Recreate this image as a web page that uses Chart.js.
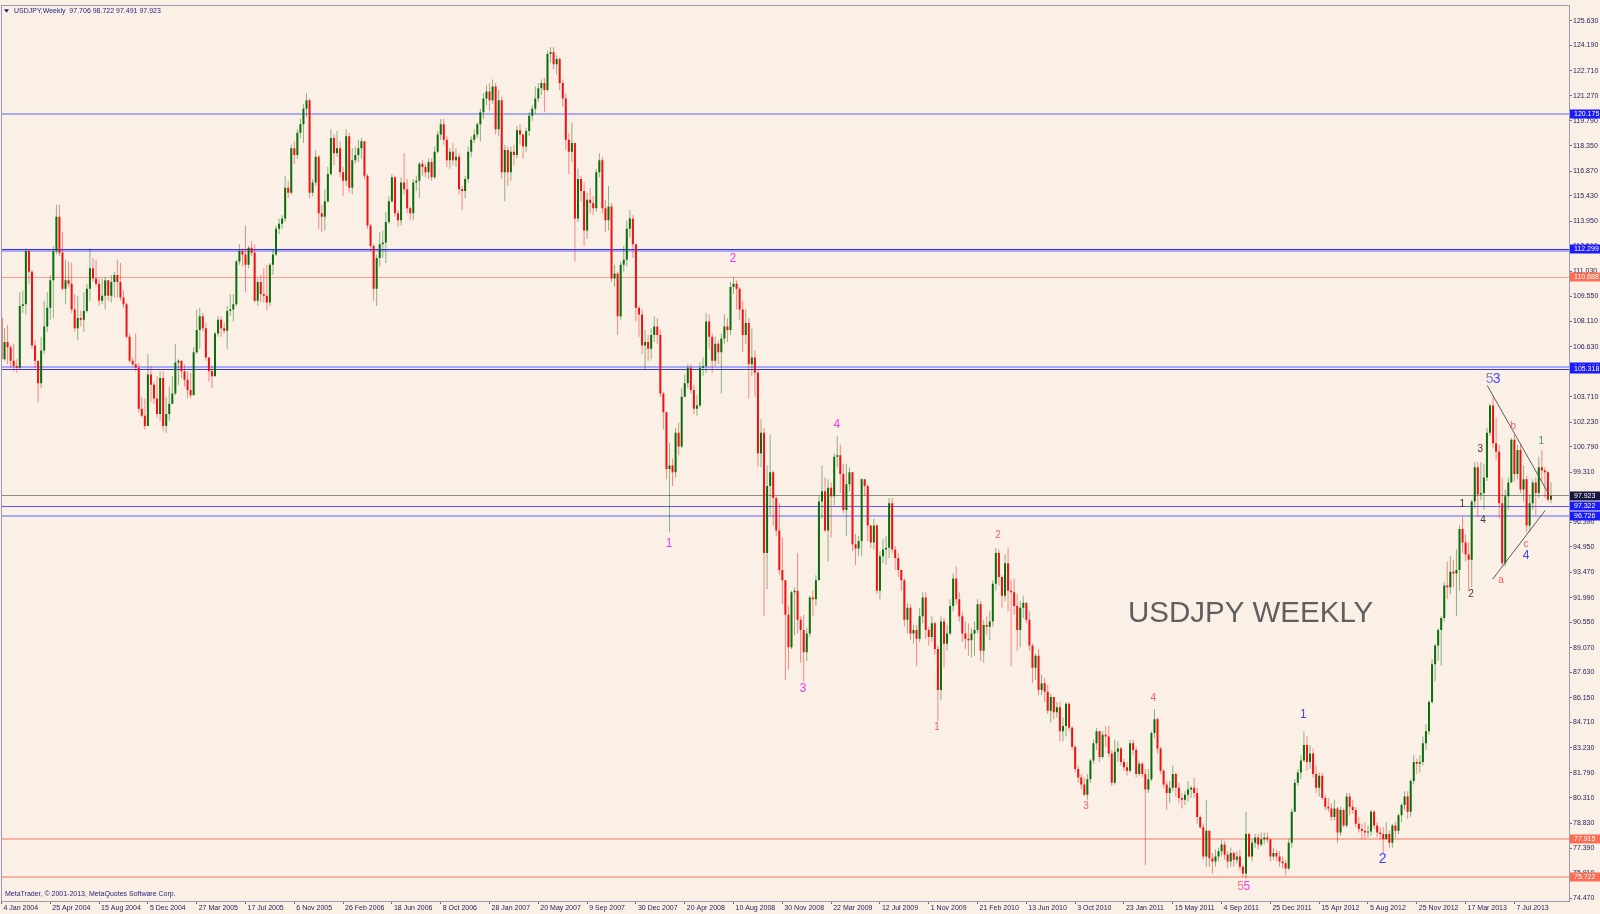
<!DOCTYPE html>
<html><head><meta charset="utf-8">
<script src="https://cdn.jsdelivr.net/npm/chart.js@4.4.1/dist/chart.umd.min.js"></script>
<style>
html,body{margin:0;padding:0;background:#fbf0e6;}
canvas{display:block;}
</style></head><body>
<canvas id="c" width="1600" height="914"></canvas>
<script>
// ---------------- DATA ----------------
const symbolTitle = 'USDJPY,Weekly';
const lastBarOHLC = [97.706, 98.722, 97.491, 97.923];
const firstOpen = 108.3;
// weekly closes, 4 Jan 2004 .. 29 Sep 2013 (one per bar)
const closes = [
105.9,106.9,106.6,105.8,105.5,105.4,109.0,109.1,112.2,111.0,
106.7,105.8,104.5,106.4,107.8,108.9,110.5,112.2,114.2,112.1,
110.0,110.5,110.3,108.8,107.7,108.3,108.2,108.7,110.0,111.2,
110.6,110.3,109.3,109.6,110.5,109.6,110.4,110.8,110.4,109.5,
109.1,107.2,105.8,105.6,105.4,103.0,102.6,102.0,105.0,104.4,
103.6,102.7,104.8,102.0,102.7,103.3,103.9,105.7,105.8,105.2,
104.7,104.1,103.8,106.3,107.6,108.4,107.7,106.0,105.2,104.9,
107.4,108.2,107.7,107.55,108.7,108.8,109.1,111.6,112.2,112.0,
111.4,112.4,112.1,109.3,110.4,109.7,109.6,109.2,111.4,112.0,
113.5,113.8,114.1,115.9,115.6,118.2,117.8,119.1,119.6,120.5,
121.0,115.6,116.2,117.7,114.4,114.2,115.1,116.7,118.8,117.9,
118.2,116.8,116.3,118.9,115.9,117.5,117.8,118.2,118.6,116.6,
113.7,112.5,110.0,111.8,112.6,112.7,113.9,115.1,116.5,114.4,
114.0,116.2,115.8,114.7,114.4,116.2,116.3,117.3,117.1,116.8,
117.4,116.5,118.0,119.0,119.6,118.7,117.5,118.0,117.5,117.7,
115.8,115.7,116.4,118.0,118.7,119.0,119.6,120.3,121.1,121.5,
121.0,121.8,119.3,121.0,116.8,118.1,116.8,118.0,117.8,119.25,
119.0,118.3,119.2,120.1,120.5,121.1,121.7,122.0,121.6,123.7,
123.8,123.1,123.4,122.0,121.1,118.7,118.0,118.5,114.1,116.4,
115.7,113.4,115.2,115.0,114.7,116.8,117.5,114.7,114.0,114.8,
110.6,110.9,108.4,111.4,111.7,113.5,114.1,112.6,108.9,108.5,
106.7,106.9,106.5,107.3,107.8,107.3,103.9,102.8,99.5,99.7,
99.3,101.6,100.8,103.7,104.5,105.4,104.1,103.0,103.2,105.4,
105.5,108.1,107.2,105.8,106.8,106.3,107.1,107.8,107.6,110.1,
110.3,110.0,108.8,107.3,108.0,105.6,106.0,105.1,100.4,101.6,
94.6,98.5,99.3,97.8,95.9,93.6,93.0,91.0,89.1,92.3,
92.4,90.7,90.1,88.8,89.9,92.0,91.9,93.0,97.6,98.2,
95.9,98.4,97.9,100.2,100.3,99.2,97.1,98.6,99.3,95.1,
94.85,95.3,98.9,98.5,96.2,95.2,96.2,92.4,94.4,94.8,
94.9,97.5,94.8,94.3,93.6,93.0,90.7,91.4,89.9,90.1,
89.6,90.9,92.0,90.1,89.7,90.5,89.0,86.6,90.6,89.3,
89.9,91.5,93.1,91.9,90.9,89.9,89.6,89.5,89.9,90.1,
91.6,88.9,90.4,90.3,90.6,92.8,94.6,93.2,92.1,94.0,
92.4,92.3,91.5,90.1,91.4,91.7,90.7,89.2,87.9,88.6,
86.6,87.0,86.5,85.4,86.2,85.3,85.6,84.2,84.5,85.8,
84.4,83.3,82.0,81.5,81.1,80.5,81.4,82.5,83.5,84.2,
82.7,84.0,83.9,82.9,81.2,83.0,83.2,82.4,82.1,81.9,
83.5,83.1,81.7,82.3,81.7,80.8,81.4,84.1,84.9,83.2,
81.9,81.1,80.6,80.9,81.7,80.9,80.3,80.2,80.5,80.8,
80.9,80.6,79.2,78.6,76.9,78.4,76.8,76.6,76.9,77.2,
77.6,77.0,76.6,77.1,76.7,76.9,76.3,75.9,78.2,76.9,
77.7,78.0,77.6,77.9,78.0,77.9,76.9,77.1,76.9,76.6,
76.5,76.2,77.7,79.5,81.2,81.8,82.5,83.4,82.4,82.9,
81.7,80.9,81.6,80.3,79.8,79.7,79.2,79.7,78.3,79.6,
78.7,80.4,79.8,79.6,78.8,78.5,78.4,78.3,78.35,79.5,
78.7,78.3,78.2,77.9,78.2,77.7,78.7,78.4,79.3,79.9,
80.4,79.5,81.3,82.4,82.3,82.4,83.5,84.2,85.9,88.1,
89.2,90.1,90.8,92.7,92.6,93.5,93.4,93.6,96.0,95.2,
94.5,94.2,97.6,99.6,98.0,98.1,99.0,101.6,103.2,101.0,
100.5,97.5,94.0,97.9,98.7,101.2,99.2,100.6,98.3,98.9,
96.2,97.5,98.7,98.1,99.6,99.4,99.3,97.706,97.923];
const highs = [
108.4,107.7,107.9,106.7,106.8,105.9,109.8,109.9,112.4,112.3,
111.1,107.0,105.7,107.2,109.3,109.8,110.8,112.5,114.9,114.9,
113.3,111.7,111.6,111.5,109.7,109.6,108.7,109.8,110.3,112.4,
111.8,111.7,110.6,110.6,110.7,110.5,110.8,111.0,111.7,111.5,
109.9,109.2,107.4,106.0,107.4,105.7,103.7,103.6,106.2,105.5,
104.6,104.9,105.2,105.2,103.7,104.3,104.9,106.8,105.9,105.8,
105.6,105.2,105.1,106.6,108.8,108.9,108.6,108.0,105.7,105.5,
107.5,108.4,108.4,108.0,109.0,109.7,109.7,111.7,112.6,112.4,
113.7,112.5,112.8,112.6,110.6,110.8,111.2,111.4,111.5,112.3,
113.7,114.1,114.3,116.6,116.3,118.4,118.6,119.3,119.9,120.8,
121.4,121.1,116.4,118.1,117.8,114.9,115.8,117.1,119.3,119.0,
119.2,118.6,117.1,119.3,119.1,118.2,118.3,118.7,118.8,118.6,
116.7,113.8,112.6,112.0,113.3,113.4,114.5,115.4,116.7,116.6,
114.6,116.5,117.9,116.4,114.8,116.4,116.6,117.4,117.5,117.3,
117.6,117.6,118.3,119.2,119.9,119.9,118.9,118.2,118.5,118.2,
117.9,116.0,116.6,118.3,118.9,119.3,119.7,120.5,121.4,121.9,
122.0,122.2,122.0,121.6,121.2,118.4,118.3,118.3,118.4,119.5,
119.6,118.9,119.4,120.3,120.7,121.8,122.0,122.2,122.3,123.9,
124.1,124.1,123.6,123.5,122.2,121.4,119.1,119.7,118.5,117.0,
116.6,116.2,115.6,115.9,115.4,117.0,117.9,117.7,115.2,116.0,
115.0,111.4,111.0,111.6,112.5,114.0,114.6,114.3,112.5,109.0,
108.8,107.6,107.3,107.7,108.4,108.3,107.6,104.0,102.8,101.0,
100.1,101.9,102.2,104.2,105.0,105.6,105.6,104.4,103.8,105.7,
106.0,108.6,108.5,107.4,107.2,107.0,107.4,108.5,108.3,110.4,
110.7,110.5,110.1,109.3,108.8,108.3,107.7,106.4,105.3,102.4,
101.9,99.7,101.5,99.4,97.9,97.5,95.5,93.0,91.5,92.4,
92.6,94.6,90.9,91.0,90.2,92.1,92.4,93.3,97.9,99.7,
99.0,98.9,98.7,100.4,101.4,100.9,99.8,99.8,99.6,99.3,
95.7,95.6,98.95,98.9,98.6,96.2,96.6,96.3,94.7,95.4,
95.6,97.8,97.8,95.0,94.6,93.6,93.1,91.7,91.6,90.4,
90.4,91.4,92.3,92.3,90.3,90.9,90.6,89.2,90.9,90.8,
90.4,91.9,93.4,93.8,92.3,91.2,90.6,90.5,90.2,90.6,
91.9,91.8,90.7,90.9,91.2,93.0,94.9,94.8,93.3,94.5,
94.9,93.0,93.1,92.2,91.8,92.1,91.6,91.2,89.3,88.7,
89.0,87.5,87.3,86.9,86.4,86.0,85.9,85.9,85.0,85.9,
85.9,84.5,83.4,82.2,81.7,81.5,81.7,82.6,83.7,84.4,
84.2,84.2,84.5,84.5,83.1,83.7,83.6,83.3,82.6,82.4,
83.7,83.7,83.3,82.5,82.4,82.0,82.0,84.2,85.5,85.0,
83.3,82.0,81.3,81.3,82.2,81.8,81.2,80.6,80.7,81.3,
81.0,81.5,80.9,79.3,78.8,80.2,78.4,77.1,77.3,77.4,
77.9,77.8,77.2,77.4,77.2,77.2,77.3,76.4,79.5,78.3,
77.9,78.2,78.2,78.3,78.3,78.3,77.9,77.4,77.3,77.2,
76.9,76.7,77.9,79.7,81.4,82.0,82.8,84.2,83.9,83.4,
83.2,82.2,81.8,81.8,80.5,80.3,80.0,80.2,79.8,79.8,
79.7,80.6,80.6,80.2,79.8,79.2,78.8,78.9,78.7,79.6,
79.6,78.9,78.6,78.6,78.9,78.4,78.8,78.9,79.4,80.0,
80.7,80.7,81.4,82.8,82.6,82.8,83.9,84.6,86.0,88.4,
89.3,90.2,90.9,92.9,94.1,94.4,94.2,94.8,96.2,96.7,
95.7,95.2,97.7,99.9,99.9,99.9,99.8,101.9,103.3,103.7,
102.5,100.9,99.0,98.3,99.0,101.3,101.5,100.9,101.0,99.7,
99.1,98.0,98.9,99.0,100.2,100.6,99.6,99.4,98.722];
const lows = [
105.6,105.8,105.6,105.4,105.2,105.1,105.3,108.6,108.5,110.3,
106.5,105.4,103.4,104.2,106.2,107.5,108.2,108.3,112.0,111.9,
109.9,109.1,110.1,108.6,107.5,107.0,107.8,107.5,108.6,109.3,
110.4,110.1,109.0,109.1,108.8,109.3,109.2,109.5,109.5,109.3,
108.9,107.1,105.7,105.5,105.2,102.8,102.5,101.8,102.0,103.4,
103.3,102.5,102.3,101.7,101.6,102.3,103.3,103.8,104.4,104.8,
104.3,103.6,103.6,103.8,106.2,106.5,107.5,105.8,104.6,104.2,
104.9,107.2,107.2,107.4,106.5,108.4,108.1,109.0,111.4,111.3,
109.8,111.2,111.9,109.2,109.0,109.2,109.2,108.75,109.0,110.8,
111.9,113.2,113.5,113.9,115.3,115.5,117.3,117.6,118.8,118.5,
120.0,115.3,115.4,116.0,113.5,113.3,113.4,115.0,116.6,117.2,
117.7,116.5,115.4,116.0,115.6,115.5,117.3,117.4,117.6,116.4,
113.5,112.2,109.3,109.0,111.3,111.8,111.5,113.8,115.0,114.2,
113.6,113.7,115.5,114.4,114.0,114.0,115.7,115.3,116.6,116.5,
116.4,116.3,116.4,117.9,118.7,118.4,117.1,117.0,117.2,117.1,
115.5,114.6,115.3,116.2,117.7,118.5,118.8,118.6,119.9,120.7,
120.4,120.8,119.0,118.9,116.4,115.1,116.0,116.3,117.2,117.6,
118.4,117.6,118.0,118.9,119.8,120.2,120.9,121.3,120.3,121.5,
123.2,122.8,122.5,121.6,120.6,118.1,116.7,117.4,111.6,113.9,
115.1,112.5,112.9,114.4,114.3,114.5,116.5,114.4,113.3,113.4,
110.4,110.1,107.3,108.2,111.0,111.3,113.0,111.8,108.1,107.2,
106.2,105.3,105.8,105.9,106.9,106.8,103.7,101.8,98.9,95.8,
98.5,99.0,100.3,100.7,103.7,104.2,103.9,102.7,102.6,103.1,
104.9,105.1,106.5,105.1,105.5,105.6,103.9,106.8,106.9,107.3,
109.7,108.8,108.2,106.3,106.8,103.6,104.9,103.7,99.6,99.6,
90.9,92.5,96.8,96.2,95.6,93.3,91.6,87.2,87.8,89.0,
89.8,89.9,88.2,87.1,88.3,89.7,90.9,91.5,93.4,96.6,
95.8,94.1,95.5,97.4,99.6,98.1,96.9,95.6,98.2,94.7,
93.9,94.4,94.4,97.9,95.3,94.9,94.8,92.2,91.9,94.0,
93.9,94.3,94.6,93.6,93.2,92.4,90.3,89.9,89.5,89.3,
88.0,89.4,90.5,89.6,89.2,89.4,88.7,84.8,86.0,87.9,
88.9,89.8,91.2,91.6,90.6,89.4,89.0,88.6,88.5,88.6,
89.9,88.3,88.2,89.8,89.5,90.3,92.4,92.7,91.4,91.8,
91.2,88.0,91.0,88.9,89.1,90.8,90.5,88.9,87.0,87.2,
86.3,86.3,85.9,85.2,84.7,84.9,85.0,83.6,83.6,83.9,
84.2,83.1,81.8,81.2,80.8,80.4,80.2,81.2,82.3,83.1,
82.4,82.6,83.3,82.7,81.0,81.1,82.4,82.2,81.9,81.6,
81.8,82.8,81.5,81.6,81.5,76.4,80.6,81.3,83.8,82.9,
81.7,80.9,79.6,80.0,80.7,80.4,80.0,79.7,79.9,80.1,
80.3,80.3,78.8,78.5,76.7,76.3,76.3,75.9,76.3,76.6,
76.9,76.7,76.2,76.3,76.3,76.5,76.1,75.7,75.6,76.8,
76.6,77.4,77.3,77.5,77.6,77.7,76.6,76.7,76.6,76.3,
76.2,75.8,76.1,77.4,79.5,81.0,81.4,82.4,81.9,82.0,
81.5,80.6,80.4,80.2,79.6,79.5,79.0,79.0,77.7,78.1,
78.6,78.6,79.3,79.4,78.6,78.3,77.9,77.9,78.0,78.1,
78.5,78.0,77.9,77.1,77.9,77.4,77.4,78.0,78.2,78.9,
79.6,79.1,79.2,81.1,81.7,81.8,82.2,83.1,84.0,85.8,
87.1,88.3,88.0,90.6,91.9,92.2,92.6,90.9,92.4,94.6,
94.1,92.4,92.6,97.2,96.7,97.7,97.1,98.8,101.4,100.7,
100.0,96.6,93.8,93.8,97.1,99.4,98.8,98.9,98.1,97.6,
95.8,95.8,97.1,96.8,97.8,98.8,97.8,97.6,97.491];

// date tick labels (one every 16 weekly bars)
const dateTickLabels = ['4 Jan 2004','25 Apr 2004','15 Aug 2004','5 Dec 2004','27 Mar 2005','17 Jul 2005','6 Nov 2005','26 Feb 2006','18 Jun 2006','8 Oct 2006','28 Jan 2007','20 May 2007','9 Sep 2007','30 Dec 2007','20 Apr 2008','10 Aug 2008','30 Nov 2008','22 Mar 2009','12 Jul 2009','1 Nov 2009','21 Feb 2010','13 Jun 2010','3 Oct 2010','23 Jan 2011','15 May 2011','4 Sep 2011','25 Dec 2011','15 Apr 2012','5 Aug 2012','25 Nov 2012','17 Mar 2013','7 Jul 2013'];
const priceTicks = [125.63,124.19,122.71,121.27,119.79,118.35,116.87,115.43,113.95,112.51,111.03,109.55,108.11,106.63,105.19,103.71,102.23,100.79,99.31,97.87,96.39,94.95,93.47,91.99,90.55,89.07,87.63,86.15,84.71,83.23,81.79,80.31,78.83,77.39,75.91,74.47];

// horizontal levels
const levelPrices = [120.175, 112.299, 112.21, 110.688, 105.47, 105.318, 97.923, 97.322, 96.726, 77.915, 75.722];
const levelKinds  = ['blueL','blueD','blueL','salmon','blueL','blueD','grey','blueM','blueL','salmonW','salmonW'];
const labelPrices = [120.175, 112.299, 110.688, 105.465, 105.318, 97.923, 97.322, 96.726, 77.915, 75.722];
const labelKinds  = ['blue','blue','salmon','blue','blue','navy','blue','blue','salmon','salmon'];

// wave labels: text, bar index, price
const waveLabels = [
  ['2',239.8,111.73,'mag'],['1',218.9,95.12,'mag'],['3',262.8,86.7,'mag'],['4',273.9,102.08,'mag'],
  ['2',326.7,95.64,'red'],['1',306.7,84.44,'red'],['3',355.6,79.85,'red'],['4',377.6,86.14,'red'],
  ['5',406.2,75.15,'pink'],['5',408.3,75.15,'mag'],
  ['1',426.8,85.19,'blueS'],['2',452.8,76.72,'blueL'],['4',499.8,94.43,'blueS'],
  ['5',487.9,104.76,'slate'],['3',490.2,104.76,'blueL'],
  ['3',484.8,100.63,'black'],['1',478.9,97.43,'black'],['4',485.7,96.5,'black'],['2',481.8,92.2,'black'],
  ['b',495.6,102.01,'red'],['a',491.6,93.0,'red'],['c',499.8,95.09,'red'],
  ['1',504.8,101.1,'green']
];
const trendUpper = [[487.1,104.36],[507.1,98.09]];
const trendLower = [[488.9,93.07],[506.1,97.08]];
const bigTitle = 'USDJPY WEEKLY';
const bigTitleAnchor = [369.3, 90.59];

// ---------------- STYLES ----------------
const BG = '#fbf0e6';
const FONT = "'Liberation Sans', Arial, sans-serif";
const AXIS_TEXT = '#25255a';
const lineStyles = {
  blueL:{c:'#a9a9f4',w:2}, blueD:{c:'#3232f0',w:1}, blueM:{c:'#5a5af2',w:1},
  salmon:{c:'#f6a08e',w:1}, salmonW:{c:'#f7b2a2',w:2}, grey:{c:'#8c8c8c',w:1}
};
const boxStyles = {blue:'#1a1aff', navy:'#15153e', salmon:'#fb6e52'};
const waveStyles = {
  mag:{c:'#ee3cee',s:12}, red:{c:'#ff5a5a',s:10}, pink:{c:'#ff6f8f',s:12},
  blueS:{c:'#4343ff',s:12}, blueL:{c:'#4343ff',s:14}, slate:{c:'#8585c8',s:14},
  black:{c:'#3a3a3a',s:10}, green:{c:'#3f9f3f',s:10}
};

// ---------------- BUILD ----------------
const opens = closes.map((c, i) => i === 0 ? firstOpen : closes[i - 1]);
const isBull = closes.map((c, i) => c >= opens[i]);
const bodyData = closes.map((c, i) => ({x: i, y: [opens[i], c]}));
const wickData = closes.map((c, i) => ({x: i, y: [Math.min(lows[i], opens[i], c), Math.max(highs[i], opens[i], c)]}));
const bodyColors = isBull.map(b => b ? '#0b6e0b' : '#f01212');
const wickColors = isBull.map(b => b ? 'rgba(0,100,0,0.45)' : 'rgba(255,0,0,0.45)');

const deco = {
  id: 'mt4deco',
  beforeDraw(chart) {
    const c = chart.ctx;
    c.save(); c.fillStyle = BG; c.fillRect(0, 0, chart.width, chart.height); c.restore();
  },
  beforeDatasetsDraw(chart) {
    const {ctx, chartArea: a, scales: {y}} = chart;
    ctx.save();
    ctx.beginPath(); ctx.rect(a.left, a.top, a.right - a.left, a.bottom - a.top); ctx.clip();
    levelPrices.forEach((p, k) => {
      const st = lineStyles[levelKinds[k]];
      const py = y.getPixelForValue(p);
      const yy = st.w % 2 ? Math.round(py - 0.5) + 0.5 : Math.round(py);
      ctx.strokeStyle = st.c; ctx.lineWidth = st.w;
      ctx.beginPath(); ctx.moveTo(a.left, yy); ctx.lineTo(a.right, yy); ctx.stroke();
    });
    ctx.restore();
  },
  afterDatasetsDraw(chart) {
    const {ctx, chartArea: a, scales: {x, y}} = chart;
    ctx.save();
    ctx.beginPath(); ctx.rect(a.left, a.top, a.right - a.left, a.bottom - a.top); ctx.clip();
    ctx.textAlign = 'center'; ctx.textBaseline = 'middle';
    waveLabels.forEach(([t, b, p, k]) => {
      const st = waveStyles[k];
      ctx.fillStyle = st.c; ctx.font = st.s + 'px ' + FONT;
      ctx.fillText(t, x.getPixelForValue(b), y.getPixelForValue(p));
    });
    ctx.textAlign = 'left'; ctx.textBaseline = 'alphabetic';
    ctx.fillStyle = '#5f5f5f'; ctx.font = '29.5px ' + FONT;
    ctx.fillText(bigTitle, x.getPixelForValue(bigTitleAnchor[0]), y.getPixelForValue(bigTitleAnchor[1]));
    ctx.restore();
  },
  afterDraw(chart) {
    const {ctx, chartArea: a, scales: {y}} = chart;
    ctx.save();
    // frame
    ctx.strokeStyle = '#9a9ab2'; ctx.lineWidth = 1;
    ctx.strokeRect(Math.floor(a.left) + 0.5, Math.floor(a.top) + 0.5, Math.round(a.right - a.left), Math.round(a.bottom - a.top));
    // price boxes
    ctx.font = '7px ' + FONT; ctx.textBaseline = 'middle'; ctx.textAlign = 'left';
    labelPrices.forEach((p, k) => {
      const py = Math.round(y.getPixelForValue(p));
      ctx.fillStyle = boxStyles[labelKinds[k]];
      ctx.fillRect(a.right + 1, py - 4.5, chart.width - a.right - 1, 9);
      ctx.fillStyle = '#ffffff';
      ctx.fillText(p.toFixed(3), a.right + 5, py + 0.5);
    });
    // header
    ctx.fillStyle = '#1f1f78';
    ctx.beginPath(); ctx.moveTo(a.left + 3, a.top + 4); ctx.lineTo(a.left + 8, a.top + 4); ctx.lineTo(a.left + 5.5, a.top + 7.5); ctx.closePath(); ctx.fill();
    ctx.fillText(symbolTitle + '  ' + lastBarOHLC.map(v => v.toFixed(3)).join(' '), a.left + 13, a.top + 6);
    // footer
    ctx.fillText('MetaTrader, \u00a9 2001-2013, MetaQuotes Software Corp.', a.left + 4, a.bottom - 7);
    ctx.restore();
  }
};

new Chart(document.getElementById('c'), {
  type: 'bar',
  data: {
    datasets: [
      {type: 'line', data: trendUpper.map(([b, p]) => ({x: b, y: p})), borderColor: '#5a5a5a', borderWidth: 1, pointRadius: 0, fill: false, order: 0},
      {type: 'line', data: trendLower.map(([b, p]) => ({x: b, y: p})), borderColor: '#5a5a5a', borderWidth: 1, pointRadius: 0, fill: false, order: 0},
      {label: 'body', data: bodyData, backgroundColor: bodyColors, grouped: false, maxBarThickness: 2, minBarLength: 1, inflateAmount: 0, borderWidth: 0, order: 1},
      {label: 'wick', data: wickData, backgroundColor: wickColors, grouped: false, maxBarThickness: 1, inflateAmount: 0, borderWidth: 0, order: 2}
    ]
  },
  options: {
    responsive: false, animation: false, devicePixelRatio: 1,
    layout: {padding: {left: 1, top: 2, right: 0, bottom: 0}, autoPadding: false},
    plugins: {legend: {display: false}, tooltip: {enabled: false}},
    scales: {
      x: {
        type: 'linear', min: -0.16, max: 513.9, offset: false,
        afterFit(s) { s.height = 13; },
        afterBuildTicks(s) { s.ticks = dateTickLabels.map((_, k) => ({value: k * 16})); },
        grid: {offset: false, drawOnChartArea: false, drawTicks: true, tickLength: 3, color: '#6a6a7a'},
        border: {display: false},
        ticks: {autoSkip: false, maxRotation: 0, minRotation: 0, align: 'start', padding: 0, labelOffset: 2,
          font: {family: FONT, size: 7}, color: AXIS_TEXT,
          callback: v => dateTickLabels[Math.round(v / 16)] || ''}
      },
      y: {
        type: 'linear', position: 'right', min: 74.30, max: 126.54,
        afterFit(s) { s.width = 31; },
        afterBuildTicks(s) { s.ticks = priceTicks.map(v => ({value: v})); },
        grid: {drawOnChartArea: false, drawTicks: true, tickLength: 3, color: '#6a6a7a'},
        border: {display: false},
        ticks: {padding: 1, font: {family: FONT, size: 7}, color: AXIS_TEXT, callback: v => v.toFixed(3)}
      }
    }
  },
  plugins: [deco]
});
</script>
</body></html>
